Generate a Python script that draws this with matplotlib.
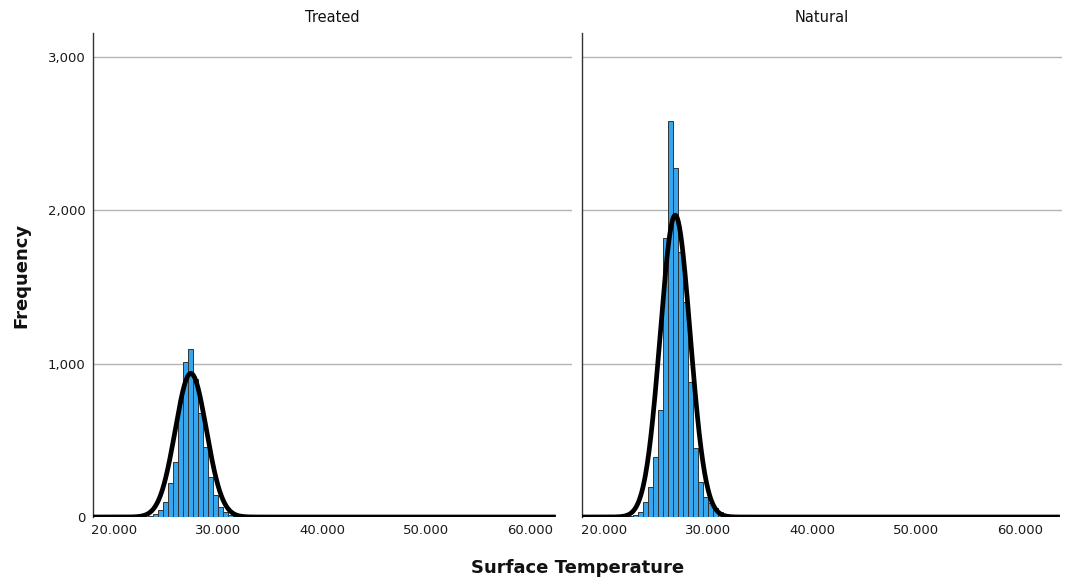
import numpy as np
import matplotlib.pyplot as plt
from matplotlib.ticker import FuncFormatter

plt.rcParams.update({'font.family': 'DejaVu Sans'})

# histogram bins (left edges) shared by both panels
bin_start = 22.29
bin_width = 0.48
treated_counts = [2, 3, 6, 18, 46, 100, 220, 360, 751, 1012, 1094,
                  900, 680, 458, 263, 143, 67, 30, 12, 5, 2]
natural_counts = [5, 15, 35, 100, 197, 393, 697, 1816, 2580, 2272, 1728,
                  1403, 881, 447, 230, 132, 89, 57, 35, 20, 10]

# fitted normal curves (mean, sd, peak height, data range)
treated_fit = dict(mean=27.35, sd=1.50, peak=936, lo=17.9, hi=62.45)
natural_fit = dict(mean=26.85, sd=1.44, peak=1967, lo=17.9, hi=63.8)

panels = ['Treated', 'Natural']
x_ticks = [20, 30, 40, 50, 60]
y_ticks = [0, 1000, 2000, 3000]

fig = plt.figure(figsize=(10.65, 5.84), dpi=100)
ax1 = fig.add_axes([0.0869, 0.1147, 0.4502, 0.8288])
ax2 = fig.add_axes([0.5465, 0.1147, 0.4507, 0.8288], sharey=ax1)

for ax, name, counts, fit in [(ax1, panels[0], treated_counts, treated_fit),
                              (ax2, panels[1], natural_counts, natural_fit)]:
    edges = bin_start + bin_width * np.arange(len(counts))
    ax.bar(edges, counts, width=bin_width, align='edge', color='#36a6ee',
           edgecolor='#333333', linewidth=0.7, zorder=2)
    xs = np.linspace(fit['lo'], fit['hi'], 800)
    ys = fit['peak'] * np.exp(-0.5 * ((xs - fit['mean']) / fit['sd']) ** 2)
    ax.plot(xs, ys, color='black', lw=3.4, zorder=3, solid_capstyle='butt')

    ax.set_xlim(17.9, 64.0)
    ax.set_ylim(0, 3155)
    ax.set_xticks(x_ticks)
    ax.set_yticks(y_ticks)
    ax.xaxis.set_major_formatter(FuncFormatter(lambda v, p: f'{v:.3f}'))
    ax.yaxis.set_major_formatter(FuncFormatter(lambda v, p: f'{int(v):,}'))
    ax.tick_params(length=0, labelsize=9.5, colors='#1a1a1a', pad=5)
    for s in ['top', 'right', 'bottom']:
        ax.spines[s].set_visible(False)
    ax.spines['left'].set_color('#333333')
    ax.spines['left'].set_linewidth(1)
    for yv in y_ticks[1:]:
        ax.axhline(yv, color='#b4b4b4', lw=1, zorder=1)
    ax.set_title(name, fontsize=10.5, pad=8, color='#111111')

ax2.tick_params(labelleft=False)

fig.text(0.020, 0.529, 'Frequency', rotation=90, fontsize=13, fontweight='bold',
         ha='center', va='center', color='#111111')
fig.text(0.542, 0.027, 'Surface Temperature', fontsize=13, fontweight='bold',
         ha='center', va='center', color='#111111')

fig.savefig('out.png', dpi=100)
